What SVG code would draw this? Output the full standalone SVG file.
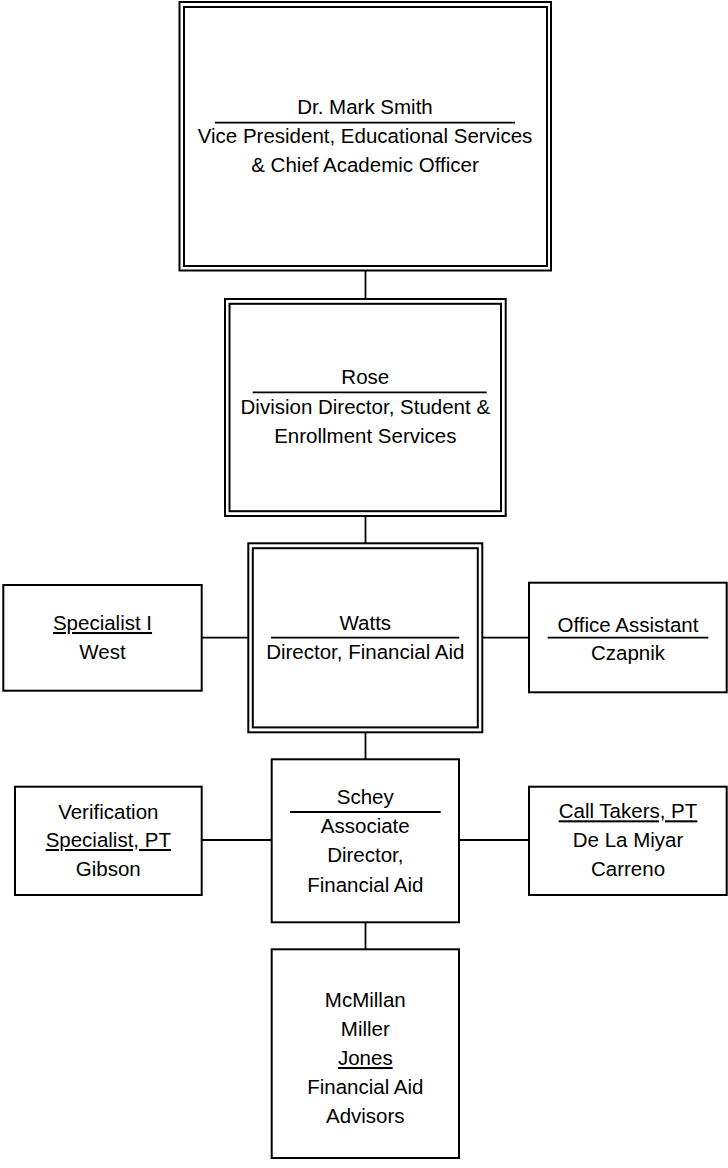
<svg xmlns="http://www.w3.org/2000/svg" width="728" height="1168" viewBox="0 0 728 1168">
<style>
  .box { fill: #fff; stroke: #000; stroke-width: 2; }
  .rule { stroke: #000; stroke-width: 1.8; }
  .conn { stroke: #000; stroke-width: 1.8; fill: none; }
  text { font-family: "Liberation Sans", Arial, sans-serif; font-size: 20.5px; fill: #000; text-anchor: middle; }
  .u { text-decoration: underline; }
</style>
<rect width="728" height="1168" fill="#fff"/>
<g id="connectors">
  <line class="conn" x1="365.5" y1="270" x2="365.5" y2="299"/>
  <line class="conn" x1="365.5" y1="516" x2="365.5" y2="543"/>
  <line class="conn" x1="365.5" y1="732" x2="365.5" y2="759"/>
  <line class="conn" x1="365.5" y1="922" x2="365.5" y2="949"/>
  <line class="conn" x1="201.7" y1="637.7" x2="248.3" y2="637.7"/>
  <line class="conn" x1="482.3" y1="637.7" x2="529" y2="637.7"/>
  <line class="conn" x1="201.7" y1="840" x2="271.7" y2="840"/>
  <line class="conn" x1="459" y1="840" x2="529" y2="840"/>
</g>
<g id="smith">
  <rect class="box" x="179.5" y="2" width="371.5" height="268.5"/>
  <rect class="box" x="184" y="7" width="363" height="259"/>
  <text x="365" y="114">Dr. Mark Smith</text>
  <line class="rule" x1="215" y1="122.7" x2="515" y2="122.7"/>
  <text x="365" y="143">Vice President, Educational Services</text>
  <text x="365" y="171.5">&amp; Chief Academic Officer</text>
</g>
<g id="rose">
  <rect class="box" x="225" y="299" width="280.7" height="217"/>
  <rect class="box" x="229.5" y="303.8" width="271.5" height="207.4"/>
  <text x="365.3" y="384.3">Rose</text>
  <line class="rule" x1="252.7" y1="392.3" x2="486.7" y2="392.3"/>
  <text x="365.3" y="414">Division Director, Student &amp;</text>
  <text x="365.3" y="443.3">Enrollment Services</text>
</g>
<g id="watts">
  <rect class="box" x="248.3" y="543.3" width="234" height="189"/>
  <rect class="box" x="252.8" y="548.2" width="225" height="179.2"/>
  <text x="365.3" y="630">Watts</text>
  <line class="rule" x1="271" y1="637.7" x2="459.3" y2="637.7"/>
  <text x="365.3" y="659.3">Director, Financial Aid</text>
</g>
<g id="west">
  <rect class="box" x="3.3" y="585" width="198.4" height="105.7"/>
  <text class="u" x="102.5" y="630">Specialist I</text>
  <text x="102.5" y="659">West</text>
</g>
<g id="czapnik">
  <rect class="box" x="529" y="582.7" width="197.7" height="109.6"/>
  <text x="628" y="631.5">Office Assistant</text>
  <line class="rule" x1="547.7" y1="637.7" x2="708.3" y2="637.7"/>
  <text x="628" y="660">Czapnik</text>
</g>
<g id="gibson">
  <rect class="box" x="15" y="786.7" width="186.7" height="108.3"/>
  <text x="108.3" y="819.3">Verification</text>
  <text class="u" x="108.3" y="847">Specialist, PT</text>
  <text x="108.3" y="876">Gibson</text>
</g>
<g id="schey">
  <rect class="box" x="271.7" y="759.3" width="187.3" height="163"/>
  <text x="365.3" y="804.3">Schey</text>
  <line class="rule" x1="290" y1="812" x2="440.7" y2="812"/>
  <text x="365.3" y="832.7">Associate</text>
  <text x="365.3" y="861.7">Director,</text>
  <text x="365.3" y="891.7">Financial Aid</text>
</g>
<g id="calltakers">
  <rect class="box" x="529" y="786.7" width="197.7" height="108.3"/>
  <text class="u" x="628" y="818.3">Call Takers, PT</text>
  <text x="628" y="847">De La Miyar</text>
  <text x="628" y="876">Carreno</text>
</g>
<g id="advisors">
  <rect class="box" x="271.7" y="949.3" width="187.3" height="208.7"/>
  <text x="365.3" y="1007.3">McMillan</text>
  <text x="365.3" y="1036">Miller</text>
  <text class="u" x="365.3" y="1065">Jones</text>
  <text x="365.3" y="1094">Financial Aid</text>
  <text x="365.3" y="1122.7">Advisors</text>
</g>
</svg>
